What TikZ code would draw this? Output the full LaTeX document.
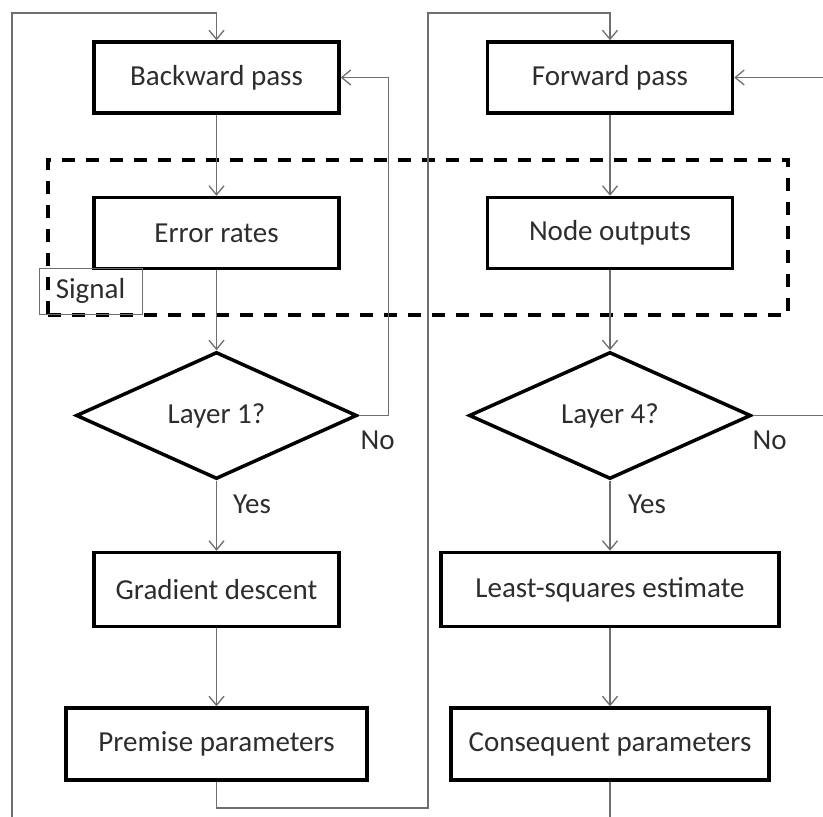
\documentclass[tikz,border=0pt]{standalone}
\usepackage{fontspec}
\setmainfont{Carlito}
\usepackage{tikz}
\usetikzlibrary{shapes.geometric,arrows.meta,positioning,calc}
\definecolor{linegray}{RGB}{110,110,110}
\definecolor{textgray}{RGB}{45,45,45}

\begin{document}
\begin{tikzpicture}[
    x=1pt, y=-1pt,
    every node/.style={font=\fontsize{29}{34}\selectfont, text=textgray},
    proc/.style={rectangle, draw=black, line width=3.5pt,
                 minimum width=245pt, minimum height=71pt, inner sep=0pt},
    decision/.style={diamond, draw=black, line width=3.5pt,
                     minimum width=281pt, minimum height=127pt, inner sep=0pt},
    group/.style={rectangle, draw=black, line width=3.5pt, dash pattern=on 13pt off 11pt,
                  minimum width=740pt, minimum height=155pt},
    tag/.style={rectangle, draw=linegray, line width=1pt,
                minimum width=103pt, minimum height=46pt, inner sep=0pt},
    lbl/.style={inner sep=0pt},
    link/.style={draw=linegray, line width=1.3pt},
    arrow/.style={link, -{Straight Barb[length=9pt,width=15pt]}}
]
\useasboundingbox (0,0) rectangle (823,817);

% Left column
\node[proc] (back) at (216.5,77.5) {Backward pass};
\node[proc, below=81pt of back] (err) {Error rates};
\node[decision, below=80pt of err] (dec1) {Layer 1?};
\node[proc, minimum height=74pt, below=70pt of dec1] (grad) {Gradient descent};
\node[proc, minimum width=301pt, minimum height=72pt, below=78pt of grad] (prem) {Premise parameters};

% Right column
\node[proc] (fwd) at (610,77.5) {Forward pass};
\node[proc, below=81pt of fwd] (out) {Node outputs};
\node[decision, minimum width=282pt, below=80pt of out] (dec4) {Layer 4?};
\node[proc, minimum width=338pt, minimum height=74pt, below=70pt of dec4] (lse) {Least-squares estimate};
\node[proc, minimum width=318pt, minimum height=72pt, below=78pt of lse] (cons) {Consequent parameters};

% Signal group
\node[group] (sigbox) at (418,237.5) {};
\node[tag] (sig) at (90.5,291) {Signal};

% Labels
\node[lbl] (no1)  at ($(dec1.east)+(19,25)$)    {No};
\node[lbl] (yes1) at ($(dec1.south)+(35.5,24)$) {Yes};
\node[lbl] (no4)  at ($(dec4.east)+(17,25)$)    {No};
\node[lbl] (yes4) at ($(dec4.south)+(37,24)$)   {Yes};

% Loose ends
\coordinate (inL)  at (12,817);
\coordinate (topL) at (12,13);
\coordinate (topM) at (428,13);
\coordinate (botM) at (428,808);
\coordinate (inR)  at (823,77.5);
\coordinate (outR) at (823,415.5);
\coordinate (outB) at (610,817);

% Arrows left
\draw[arrow] (inL) -- (topL) -| (back.north);
\draw[arrow] (back) -- (err);
\draw[arrow] (err)  -- (dec1);
\draw[arrow] (dec1) -- (grad);
\draw[arrow] (grad) -- (prem);
\draw[arrow] (dec1.east) -- ++(30,0) |- (back.east);

% Arrows right
\draw[arrow] (prem.south) |- (botM) -- (topM) -| (fwd.north);
\draw[arrow] (fwd) -- (out);
\draw[arrow] (out) -- (dec4);
\draw[arrow] (dec4) -- (lse);
\draw[arrow] (lse) -- (cons);
\draw[arrow] (inR) -- (fwd.east);
\draw[link] (dec4.east) -- (outR);
\draw[link] (cons.south) -- (outB);

\end{tikzpicture}
\end{document}
